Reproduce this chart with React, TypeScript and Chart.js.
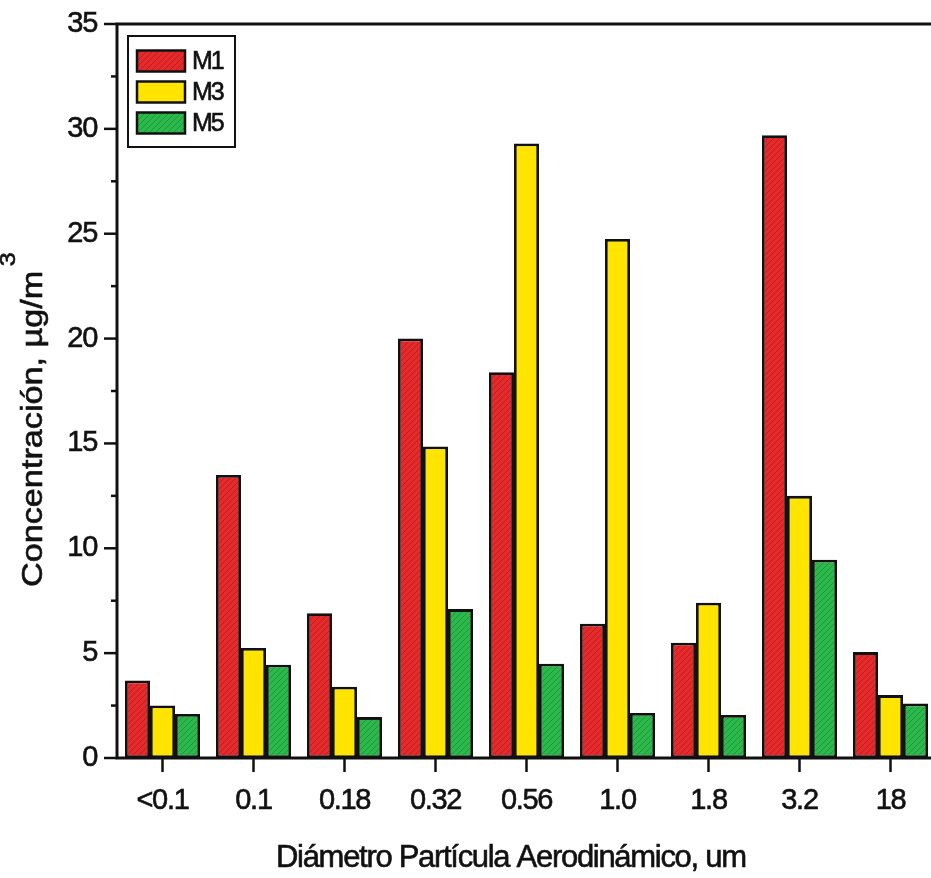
import React, { useEffect, useRef } from 'react';
import { Chart, registerables } from 'chart.js';

Chart.register(...registerables);

const categories = ['<0.1', '0.1', '0.18', '0.32', '0.56', '1.0', '1.8', '3.2', '18'];
const seriesNames = ['M1', 'M3', 'M5'];
const m1Values = [3.7, 13.5, 6.9, 20.0, 18.4, 6.4, 5.5, 29.7, 5.05];
const m3Values = [2.5, 5.25, 3.4, 14.85, 29.3, 24.75, 7.4, 12.5, 3.0];
const m5Values = [2.1, 4.45, 1.95, 7.1, 4.5, 2.15, 2.05, 9.45, 2.6];
const yMin = 0;
const yMax = 35;
const yStep = 5;
const xTitle = 'Diámetro Partícula Aerodinámico, um';
const yTitleMain = 'Concentración, µg/m';
const yTitleSup = '3';

const FONT = "'Liberation Sans', Arial, sans-serif";

function makePattern(base: string, line: string | null) {
  const c = document.createElement('canvas');
  c.width = 6;
  c.height = 6;
  const g = c.getContext('2d')!;
  g.fillStyle = base;
  g.fillRect(0, 0, 6, 6);
  if (line) {
    g.strokeStyle = line;
    g.lineWidth = 1;
    g.beginPath();
    g.moveTo(0, 6);
    g.lineTo(6, 0);
    g.moveTo(-3, 3);
    g.lineTo(3, -3);
    g.moveTo(3, 9);
    g.lineTo(9, 3);
    g.stroke();
  }
  return g.createPattern(c, 'repeat')!;
}

function drawText(ctx: any, text: string, x: number, y: number) {
  ctx.lineWidth = 0.6;
  ctx.strokeStyle = '#111';
  ctx.strokeText(text, x, y);
  ctx.fillText(text, x, y);
}

const framePlugin = {
  id: 'frameTicks',
  beforeDraw(chart: any) {
    (chart.ctx as any).letterSpacing = '-1.3px';
  },
  afterDraw(chart: any) {
    const ctx = chart.ctx;
    const { left, right, top, bottom } = chart.chartArea;
    const x = chart.scales.x;
    const y = chart.scales.y;
    ctx.save();
    ctx.strokeStyle = '#111';
    ctx.lineWidth = 2.5;
    // y ticks (major + minor)
    for (let v = yMin; v <= yMax + 0.001; v += yStep / 2) {
      const py = y.getPixelForValue(v);
      const len = Math.abs(v % yStep) < 0.001 ? 13 : 6;
      ctx.beginPath();
      ctx.moveTo(left - len, py);
      ctx.lineTo(left, py);
      ctx.stroke();
    }
    // x ticks
    categories.forEach((_, i) => {
      const px = x.getPixelForValue(i);
      ctx.beginPath();
      ctx.moveTo(px, bottom);
      ctx.lineTo(px, bottom + 14);
      ctx.stroke();
    });
    // frame
    ctx.lineWidth = 3;
    ctx.strokeRect(left, top, right - left, bottom - top);

    // legend
    const lx = left + 11;
    const ly = top + 12;
    const lw = 107;
    const lh = 111;
    ctx.fillStyle = '#fff';
    ctx.fillRect(lx, ly, lw, lh);
    ctx.lineWidth = 2;
    ctx.strokeRect(lx, ly, lw, lh);
    ctx.font = `25px ${FONT}`;
    ctx.textBaseline = 'middle';
    ctx.textAlign = 'left';
    (ctx as any).letterSpacing = '-2px';
    chart.data.datasets.forEach((ds: any, i: number) => {
      const cy = ly + 25 + i * 31;
      ctx.fillStyle = ds.backgroundColor;
      ctx.fillRect(lx + 9, cy - 10.5, 48, 21);
      ctx.lineWidth = 2.5;
      ctx.strokeStyle = '#111';
      ctx.strokeRect(lx + 9, cy - 10.5, 48, 21);
      ctx.fillStyle = '#111';
      drawText(ctx, ds.label, lx + 64, cy + 1);
    });

    // x axis title
    ctx.fillStyle = '#111';
    ctx.textBaseline = 'alphabetic';
    ctx.textAlign = 'left';
    ctx.font = `31px ${FONT}`;
    (ctx as any).letterSpacing = '-1.3px';
    drawText(ctx, xTitle, left + 159, chart.height - 11);

    // y axis title (rotated) with superscript
    ctx.save();
    ctx.translate(42, bottom - 171);
    ctx.rotate(-Math.PI / 2);
    ctx.scale(1.14, 1);
    ctx.font = `30px ${FONT}`;
    (ctx as any).letterSpacing = '0px';
    drawText(ctx, yTitleMain, 0, 0);
    const w = ctx.measureText(yTitleMain).width;
    ctx.font = `22px ${FONT}`;
    drawText(ctx, yTitleSup, w + 4, -27);
    ctx.restore();

    ctx.restore();
  },
};

export default function App() {
  const ref = useRef<HTMLCanvasElement | null>(null);

  useEffect(() => {
    if (!ref.current) return;
    const red = makePattern('#e42b2c', '#c51a20');
    const yellow = makePattern('#ffe400', null);
    const green = makePattern('#2cb84b', '#1b9a39');
    const colors = [red, yellow, green];
    const values = [m1Values, m3Values, m5Values];

    const chart = new Chart(ref.current, {
      type: 'bar',
      data: {
        labels: categories,
        datasets: seriesNames.map((name, i) => ({
          label: name,
          data: values[i],
          backgroundColor: colors[i] as any,
          borderColor: '#111',
          borderWidth: 2.8,
          borderSkipped: false,
          categoryPercentage: 0.825,
          barPercentage: 1,
        })),
      },
      options: {
        responsive: false,
        animation: false,
        devicePixelRatio: 1,
        layout: { padding: { top: 24, right: 9, left: 0, bottom: 0 } },
        plugins: {
          legend: { display: false },
          tooltip: { enabled: false },
        },
        scales: {
          x: {
            type: 'category',
            grid: { display: false },
            border: { display: false },
            ticks: {
              color: '#111',
              font: { family: FONT, size: 29 },
              padding: 18,
              maxRotation: 0,
              autoSkip: false,
              textStrokeColor: '#111',
              textStrokeWidth: 0.6,
            },
            title: { display: false },
            afterFit: (s: any) => {
              s.height = 120;
              s.paddingLeft = 0;
              s.paddingRight = 0;
            },
          },
          y: {
            min: yMin,
            max: yMax,
            grid: { display: false },
            border: { display: false },
            ticks: {
              stepSize: yStep,
              color: '#111',
              font: { family: FONT, size: 29 },
              padding: 12,
              textStrokeColor: '#111',
              textStrokeWidth: 0.6,
            },
            title: { display: false },
            afterFit: (s: any) => {
              s.width = 117;
              s.paddingTop = 0;
              s.paddingBottom = 0;
            },
          },
        },
      },
      plugins: [framePlugin],
    });
    return () => chart.destroy();
  }, []);

  return (
    <div
      style={{
        position: 'fixed',
        left: 0,
        top: 0,
        width: 931,
        height: 878,
        overflow: 'hidden',
        background: '#fff',
      }}
    >
      <canvas ref={ref} width={945} height={878} style={{ display: 'block' }} />
    </div>
  );
}
